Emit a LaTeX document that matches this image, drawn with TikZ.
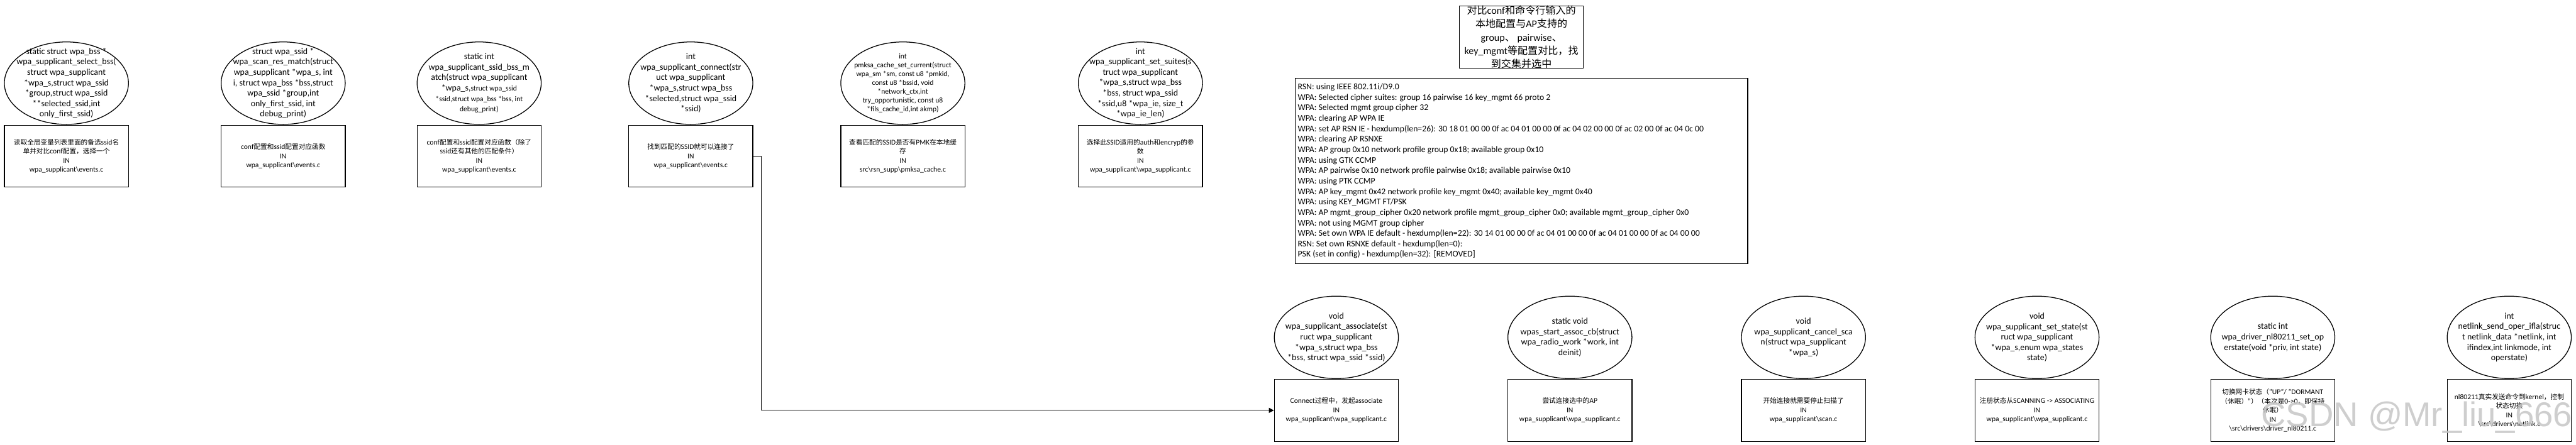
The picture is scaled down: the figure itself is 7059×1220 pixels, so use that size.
\documentclass[tikz,border=0pt]{standalone}
\usepackage{fontspec}
\setmainfont{Carlito}
\newfontfamily\zhfont[Scale=0.92]{Noto Sans CJK SC}
\newfontfamily\zhtitle{Noto Sans CJK SC}
\newfontfamily\wmfont{Liberation Sans}
\newcommand\zh[1]{{\zhfont #1}}
\newcommand\zt[1]{{\zhtitle #1}}
\usetikzlibrary{shapes.geometric,arrows.meta}
\tikzset{
  fn/.style={ellipse, draw, line width=1.1pt, minimum width=170pt, minimum height=113pt, inner sep=0pt},
  fntxt/.style={align=center, font=\fontsize{12}{14.3}\selectfont, inner sep=0pt},
  fnsmall/.style={align=center, font=\fontsize{10}{12}\selectfont, inner sep=0pt},
  desc/.style={draw, line width=1.1pt, minimum width=170pt, minimum height=85pt, anchor=north, inner sep=0pt},
  desctxt/.style={align=center, font=\fontsize{10}{12.5}\selectfont, inner sep=0pt},
  conn/.style={line width=1pt, -{Triangle[length=7pt,width=7pt]}},
}
\begin{document}
\begin{tikzpicture}[x=0.5pt,y=-0.5pt]
\useasboundingbox (0,0) rectangle (7059,1220);
\fill[white] (0,0) rectangle (7059,1220);

% ---------- top row ----------
\node[fn] (e1) at (182,228) {};
\node[fntxt] (e1t) at (e1.center) {static struct wpa\_bss *\\wpa\_supplicant\_select\_bss(\\struct wpa\_supplicant\\*wpa\_s,struct wpa\_ssid\\*group,struct wpa\_ssid\\**selected\_ssid,int\\only\_first\_ssid)};
\node[desc] (b1) at (e1.south) {};
\node[desctxt] (b1t) at (b1.center) {\zh{读取全局变量列表里面的备选}ssid\zh{名}\\\zh{单并对比}conf\zh{配置，选择一个}\\IN\\wpa\_supplicant\textbackslash events.c};

\node[fn] (e2) at (776,228) {};
\node[fntxt] (e2t) at (e2.center) {struct wpa\_ssid *\\wpa\_scan\_res\_match(struct\\wpa\_supplicant *wpa\_s, int\\i, struct wpa\_bss *bss,struct\\wpa\_ssid *group,int\\only\_first\_ssid, int\\debug\_print)};
\node[desc] (b2) at (e2.south) {};
\node[desctxt] (b2t) at (b2.center) {conf\zh{配置和}ssid\zh{配置对应函数}\\IN\\wpa\_supplicant\textbackslash events.c};

\node[fn] (e3) at (1313,228) {};
\node[fntxt] (e3t) at (e3.center) {static int\\wpa\_supplicant\_ssid\_bss\_m\\atch(struct wpa\_supplicant\\*wpa\_s,{\fontsize{10}{12}\selectfont struct wpa\_ssid}\\\fontsize{10}{12}\selectfont *ssid,struct wpa\_bss *bss, int\\\fontsize{10}{12}\selectfont debug\_print)};
\node[desc] (b3) at (e3.south) {};
\node[desctxt] (b3t) at (b3.center) {conf\zh{配置和}ssid\zh{配置对应函数（除了}\\ssid\zh{还有其他的匹配条件）}\\IN\\wpa\_supplicant\textbackslash events.c};

\node[fn] (e4) at (1893,228) {};
\node[fntxt] (e4t) at (e4.center) {int\\wpa\_supplicant\_connect(str\\uct wpa\_supplicant\\*wpa\_s,struct wpa\_bss\\*selected,struct wpa\_ssid\\*ssid)};
\node[desc] (b4) at (e4.south) {};
\node[desctxt] (b4t) at (b4.center) {\zh{找到匹配的}SSID\zh{就可以连接了}\\IN\\wpa\_supplicant\textbackslash events.c};

\node[fn] (e5) at (2474,228) {};
\node[fnsmall] (e5t) at (e5.center) {int\\pmksa\_cache\_set\_current(struct\\wpa\_sm *sm, const u8 *pmkid,\\const u8 *bssid, void\\*network\_ctx,int\\try\_opportunistic, const u8\\*fils\_cache\_id,int akmp)};
\node[desc] (b5) at (e5.south) {};
\node[desctxt] (b5t) at (b5.center) {\zh{查看匹配的}SSID\zh{是否有}PMK\zh{在本地缓}\\\zh{存}\\IN\\src\textbackslash rsn\_supp\textbackslash pmksa\_cache.c};

\node[fn] (e6) at (3125,228) {};
\node[fntxt] (e6t) at (e6.center) {int\\wpa\_supplicant\_set\_suites(s\\truct wpa\_supplicant\\*wpa\_s,struct wpa\_bss\\*bss, struct wpa\_ssid\\*ssid,u8 *wpa\_ie, size\_t\\*wpa\_ie\_len)};
\node[desc] (b6) at (e6.south) {};
\node[desctxt] (b6t) at (b6.center) {\zh{选择此}SSID\zh{适用的}auth\zh{和}encryp\zh{的参}\\\zh{数}\\IN\\wpa\_supplicant\textbackslash wpa\_supplicant.c};

% ---------- title and log ----------
\node[draw, line width=1.1pt, minimum width=170pt, minimum height=85.5pt, inner sep=0pt] (title) at (4169,101.5) {};
\node[align=center, inner sep=0pt, font=\fontsize{13.85}{18.5}\selectfont] (titlet) at (title.center) {\zt{对比}conf\zt{和命令行输入的}\\\zt{本地配置与}AP\zt{支持的}\\group\zt{、} pairwise\zt{、}\\key\_mgmt\zt{等配置对比，找}\\\zt{到交集并选中}};

\node[draw, line width=1.1pt, minimum width=620pt, minimum height=254pt, inner sep=0pt] (log) at (4169,469) {};
\node[anchor=west, align=left, inner sep=0pt, font=\fontsize{11.85}{14.35}\selectfont] (logt) at ([xshift=4pt]log.west) {RSN: using IEEE 802.11i/D9.0\\
WPA: Selected cipher suites: group 16 pairwise 16 key\_mgmt 66 proto 2\\
WPA: Selected mgmt group cipher 32\\
WPA: clearing AP WPA IE\\
WPA: set AP RSN IE - hexdump(len=26): 30 18 01 00 00 0f ac 04 01 00 00 0f ac 04 02 00 00 0f ac 02 00 0f ac 04 0c 00\\
WPA: clearing AP RSNXE\\
WPA: AP group 0x10 network profile group 0x18; available group 0x10\\
WPA: using GTK CCMP\\
WPA: AP pairwise 0x10 network profile pairwise 0x18; available pairwise 0x10\\
WPA: using PTK CCMP\\
WPA: AP key\_mgmt 0x42 network profile key\_mgmt 0x40; available key\_mgmt 0x40\\
WPA: using KEY\_MGMT FT/PSK\\
WPA: AP mgmt\_group\_cipher 0x20 network profile mgmt\_group\_cipher 0x0; available mgmt\_group\_cipher 0x0\\
WPA: not using MGMT group cipher\\
WPA: Set own WPA IE default - hexdump(len=22): 30 14 01 00 00 0f ac 04 01 00 00 0f ac 04 01 00 00 0f ac 04 00 00\\
RSN: Set own RSNXE default - hexdump(len=0):\\
PSK (set in config) - hexdump(len=32): [REMOVED]};

% ---------- bottom row ----------
\node[fn] (e7) at (3662,925) {};
\node[fntxt] (e7t) at (e7.center) {void\\wpa\_supplicant\_associate(st\\ruct wpa\_supplicant\\*wpa\_s,struct wpa\_bss\\*bss, struct wpa\_ssid *ssid)};
\node[desc] (b7) at (e7.south) {};
\node[desctxt] (b7t) at (b7.center) {Connect\zh{过程中，发起}associate\\IN\\wpa\_supplicant\textbackslash wpa\_supplicant.c};

\node[fn] (e8) at (4302,925) {};
\node[fntxt] (e8t) at (e8.center) {static void\\wpas\_start\_assoc\_cb(struct\\wpa\_radio\_work *work, int\\deinit)};
\node[desc] (b8) at (e8.south) {};
\node[desctxt] (b8t) at (b8.center) {\zh{尝试连接选中的}AP\\IN\\wpa\_supplicant\textbackslash wpa\_supplicant.c};

\node[fn] (e9) at (4942,925) {};
\node[fntxt] (e9t) at (e9.center) {void\\wpa\_supplicant\_cancel\_sca\\n(struct wpa\_supplicant\\*wpa\_s)};
\node[desc] (b9) at (e9.south) {};
\node[desctxt] (b9t) at (b9.center) {\zh{开始连接就需要停止扫描了}\\IN\\wpa\_supplicant\textbackslash scan.c};

\node[fn] (e10) at (5582,925) {};
\node[fntxt] (e10t) at (e10.center) {void\\wpa\_supplicant\_set\_state(st\\ruct wpa\_supplicant\\*wpa\_s,enum wpa\_states\\state)};
\node[desc] (b10) at (e10.south) {};
\node[desctxt] (b10t) at (b10.center) {\zh{注册状态从}SCANNING -> ASSOCIATING\\IN\\wpa\_supplicant\textbackslash wpa\_supplicant.c};

\node[fn] (e11) at (6228,925) {};
\node[fntxt] (e11t) at (e11.center) {static int\\wpa\_driver\_nl80211\_set\_op\\erstate(void *priv, int state)};
\node[desc] (b11) at (e11.south) {};
\node[desctxt] (b11t) at (b11.center) {\zh{切换网卡状态（}"UP"/ "DORMANT\\\zh{（休眠）}"\zh{）（本次是}0->0\zh{，即保持}\\\zh{休眠）}\\IN\\\textbackslash src\textbackslash drivers\textbackslash driver\_nl80211.c};

\node[fn] (e12) at (6876,925) {};
\node[fntxt] (e12t) at (e12.center) {int\\netlink\_send\_oper\_ifla(struc\\t netlink\_data *netlink, int\\ifindex,int linkmode, int\\operstate)};
\node[desc] (b12) at (e12.south) {};
\node[desctxt] (b12t) at (b12.center) {nl80211\zh{真实发送命令到}kernel\zh{，控制}\\\zh{状态切换}\\IN\\\textbackslash src\textbackslash drivers\textbackslash netlink.c};

% ---------- connector ----------
\draw[conn] (b4.east) -- ++(11pt,0) |- (b7.west);

% ---------- watermark ----------
\node[anchor=base west, inner sep=0pt, text=gray!45, opacity=0.85, font=\wmfont\fontsize{47}{47}\selectfont] (wm) at (6196,1170) {CSDN @Mr\_liu\_666};
\end{tikzpicture}
\end{document}
